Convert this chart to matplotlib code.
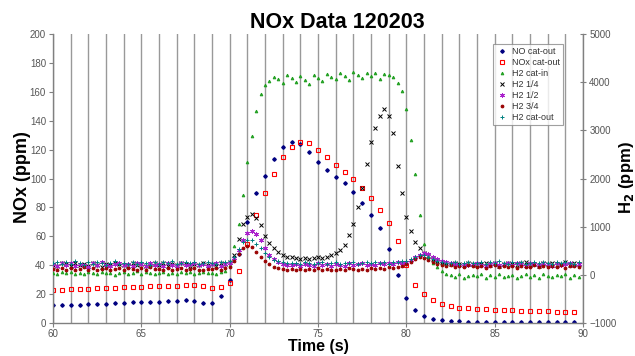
#!/usr/bin/env python3
from __future__ import annotations

import matplotlib

matplotlib.use("Agg")
import matplotlib.pyplot as plt
import numpy as np

plt.rcParams["font.family"] = ["Liberation Sans", "DejaVu Sans"]

# sample grids (s): NO / NOx analyser every 0.5 s, H2 probes every 0.25 s
slow_step = 0.5
fast_step = 0.25
time_start = 60.0
time_end = 90.0

no_cat_out = [
    12.5, 12.4, 12.6, 12.8, 13.0, 13.2, 13.3, 13.6, 13.9, 14.2,
    14.4, 14.6, 14.8, 15.2, 15.3, 15.6, 15.0, 14.0, 13.8, 18.5,
    30.0, 48.0, 70.0, 90.0, 102.0, 113.5, 122.0, 125.5, 124.0, 118.0,
    111.6, 106.0, 101.0, 96.6, 90.9, 82.8, 74.7, 65.5, 51.0, 33.0,
    17.0, 9.0, 5.0, 3.0, 2.0, 1.5, 1.2, 1.0, 0.9, 0.8,
    0.7, 0.7, 0.6, 0.6, 0.5, 0.5, 0.5, 0.4, 0.4, 0.4,
]
nox_cat_out = [
    22.8, 23.0, 23.3, 23.5, 23.8, 24.2, 24.3, 24.5, 24.8, 25.0,
    25.0, 25.5, 25.5, 25.8, 25.8, 26.3, 26.3, 25.8, 24.5, 25.0,
    28.0, 36.0, 55.0, 74.7, 89.7, 103.0, 114.6, 122.0, 125.5, 124.3,
    119.7, 115.0, 109.3, 104.3, 99.4, 93.6, 86.3, 78.2, 69.0, 56.5,
    40.0, 26.0, 20.0, 16.0, 13.0, 11.8, 10.6, 10.2, 9.8, 9.5,
    9.2, 9.0, 8.8, 8.6, 8.4, 8.2, 8.0, 7.8, 7.6, 7.4,
]

h2_cat_in = [
    40, 15, 55, 30, 60, 25, 45, 10,
    50, 35, 20, 65, 30, 45, 5, 40,
    55, 25, 40, 70, 20, 50, 35, 15,
    45, 60, 25, 40, 10, 55, 30, 50,
    20, 45, 65, 30, 40, 15, 55, 80,
    200, 600, 1050, 1650, 2350, 2880, 3400, 3750,
    3950, 4030, 4110, 4060, 3980, 4150, 4090, 4010,
    4120, 4050, 3960, 4140, 4080, 4020, 4170, 4100,
    4060, 4190, 4120, 4040, 4210, 4150, 4090, 4180,
    4130, 4200, 4070, 4160, 4140, 4100, 3990, 3820,
    3450, 2800, 2100, 1250, 650, 380, 250, 160,
    70, 20, -10, -40, 10, -60, -20, 0,
    -30, 20, -70, -10, -40, 10, -50, -20,
    0, -60, -30, 20, -40, -10, -70, 10,
    -20, -50, 0, -30, 20, -60, -10, -40,
]
h2_quarter = [
    210, 190, 240, 220, 180, 250, 200, 230,
    190, 240, 210, 170, 230, 200, 250, 220,
    200, 180, 240, 210, 230, 190, 220, 250,
    210, 240, 190, 220, 200, 250, 230, 180,
    220, 200, 240, 210, 230, 190, 250, 230,
    260, 420, 750, 1050, 1200, 1260, 1170, 1030,
    800, 660, 560, 480, 420, 380, 360, 340,
    330, 350, 320, 340, 360, 350, 380, 420,
    460, 520, 620, 820, 1050, 1400, 1800, 2300,
    2750, 3050, 3300, 3450, 3300, 2950, 2250, 1700,
    1200, 900, 690, 560, 460, 400, 330, 290,
    260, 240, 220, 250, 230, 210, 240, 220,
    200, 230, 250, 210, 240, 190, 220, 250,
    230, 200, 240, 260, 210, 230, 190, 240,
    220, 250, 200, 230, 260, 210, 240, 220,
]
h2_half = [
    220, 180, 240, 200, 250, 190, 230, 210,
    170, 240, 200, 260, 210, 180, 230, 250,
    200, 230, 190, 250, 220, 180, 240, 210,
    230, 190, 250, 210, 180, 240, 200, 220,
    250, 200, 230, 180, 220, 240, 190, 230,
    250, 340, 520, 720, 860, 900, 840, 720,
    560, 420, 320, 260, 230, 210, 200, 220,
    190, 230, 210, 180, 240, 200, 220, 190,
    230, 210, 180, 240, 200, 220, 250, 210,
    230, 200, 240, 220, 250, 230, 260, 240,
    270, 310, 370, 420, 450, 430, 380, 330,
    290, 260, 240, 220, 210, 230, 200, 220,
    240, 210, 190, 230, 250, 200, 220, 240,
    210, 250, 220, 190, 240, 230, 200, 250,
    220, 190, 240, 210, 230, 250, 200, 220,
]
h2_three_quarter = [
    130, 100, 150, 110, 140, 90, 120, 160,
    110, 140, 90, 130, 150, 100, 120, 140,
    100, 150, 120, 90, 140, 110, 160, 130,
    120, 90, 140, 110, 130, 150, 100, 120,
    140, 110, 90, 130, 120, 150, 110, 140,
    170, 280, 430, 560, 600, 570, 480, 380,
    290, 220, 170, 140, 120, 110, 130, 100,
    120, 90, 130, 110, 140, 100, 120, 90,
    110, 130, 100, 140, 120, 90, 130, 110,
    140, 120, 150, 130, 160, 140, 170, 180,
    220, 270, 330, 360, 340, 300, 260, 230,
    200, 180, 210, 170, 190, 160, 200, 180,
    170, 190, 150, 180, 200, 160, 190, 170,
    180, 150, 190, 170, 160, 200, 170, 190,
    160, 190, 170, 200, 150, 180, 190, 170,
]
h2_cat_out = [
    240, 270, 220, 260, 230, 280, 250, 210,
    260, 230, 270, 240, 210, 250, 280, 230,
    250, 220, 270, 230, 260, 240, 210, 270,
    230, 260, 240, 280, 220, 250, 270, 240,
    260, 230, 250, 270, 240, 220, 260, 270,
    280, 380, 540, 680, 730, 720, 650, 560,
    450, 370, 310, 280, 260, 250, 240, 250,
    230, 260, 240, 220, 250, 270, 230, 240,
    260, 230, 250, 240, 270, 220, 250, 260,
    240, 270, 250, 260, 230, 270, 260, 280,
    290, 330, 380, 420, 410, 370, 320, 290,
    270, 250, 240, 260, 230, 250, 270, 240,
    250, 270, 230, 260, 240, 280, 250, 230,
    260, 240, 270, 230, 250, 260, 240, 270,
    250, 230, 260, 240, 270, 250, 230, 260,
]

TICK_GRAY = "#555555"
AXIS_GRAY = "#808080"


def main() -> int:
    t_slow = np.arange(time_start, time_end, slow_step)
    t_fast = np.arange(time_start, time_end, fast_step)

    fig = plt.figure(figsize=(6.35, 3.56), dpi=100)
    ax = fig.add_axes([53 / 635, 1 - 323 / 356, 530 / 635, 289 / 356])
    ax2 = ax.twinx()

    handles = []
    handles += ax.plot(t_slow, no_cat_out, ls="none", marker="D", ms=1.8, color="#000080", label="NO cat-out")
    handles += ax.plot(t_slow, nox_cat_out, ls="none", marker="s", ms=2.8, mfc="none", mew=0.8,
                       color="#ff0000", label="NOx cat-out")

    h2_series = [
        (h2_cat_in, "H2 cat-in", "^", 1.9, "#22a022"),
        (h2_quarter, "H2 1/4", "x", 2.6, "#000000"),
        (h2_half, "H2 1/2", (6, 2, 0), 3.4, "#aa22cc"),
        (h2_three_quarter, "H2 3/4", "o", 2.0, "#990000"),
        (h2_cat_out, "H2 cat-out", "+", 3.0, "#008080"),
    ]
    for values, label, marker, size, color in h2_series:
        handles += ax2.plot(t_fast, values, ls="none", marker=marker, ms=size, mew=0.7,
                            color=color, label=label)

    ax.set_xlim(60, 90)
    ax.set_ylim(0, 200)
    ax2.set_ylim(-1000, 5000)
    ax.set_xticks(np.arange(60, 91, 5))
    ax.set_xticks(np.arange(60, 91, 1), minor=True)
    ax.set_yticks(np.arange(0, 201, 20))
    ax2.set_yticks(np.arange(-1000, 5001, 1000))
    ax.xaxis.grid(True, which="both", color="#999999", lw=1.0)
    ax.set_axisbelow(True)

    for spine in ("top", "right"):
        ax.spines[spine].set_visible(False)
    for spine in ("top", "left", "bottom"):
        ax2.spines[spine].set_visible(False)
    for spine in (ax.spines["left"], ax.spines["bottom"], ax2.spines["right"]):
        spine.set_color(AXIS_GRAY)
        spine.set_linewidth(1.0)

    ax.tick_params(axis="both", which="both", labelsize=7, labelcolor=TICK_GRAY, color=AXIS_GRAY)
    ax.tick_params(axis="x", which="minor", length=0)
    ax.tick_params(axis="x", which="major", length=3, pad=1)
    ax.tick_params(axis="y", length=3, pad=2)
    ax2.tick_params(axis="y", direction="inout", length=5, labelsize=7, labelcolor=TICK_GRAY,
                    color=AXIS_GRAY, pad=2)

    fig.text(337 / 635, 1 - 23 / 356, "NOx Data 120203", ha="center", va="center",
             fontsize=15.5, fontweight="bold")
    fig.text(318 / 635, 1 - 347 / 356, "Time (s)", ha="center", va="center",
             fontsize=11.5, fontweight="bold")
    fig.text(23 / 635, 1 - 177 / 356, "NOx (ppm)", rotation=90, ha="center", va="center",
             fontsize=13, fontweight="bold")
    fig.text(626 / 635, 1 - 178 / 356, "H$_\\mathbf{2}$ (ppm)", rotation=90, ha="center", va="center",
             fontsize=12, fontweight="bold")

    legend = ax2.legend(handles=handles, loc="upper right", bbox_to_anchor=(0.962, 0.965),
                        borderaxespad=0, fontsize=6.5, frameon=True, fancybox=False,
                        handlelength=1.2, handletextpad=0.5, labelspacing=0.22,
                        borderpad=0.35, markerscale=1.0)
    legend.get_frame().set_edgecolor("#888888")
    legend.get_frame().set_linewidth(0.8)
    for text in legend.get_texts():
        text.set_color("#333333")

    fig.savefig("out.png", dpi=100)
    plt.close(fig)
    print("Saved: out.png")
    return 0


if __name__ == "__main__":
    raise SystemExit(main())
